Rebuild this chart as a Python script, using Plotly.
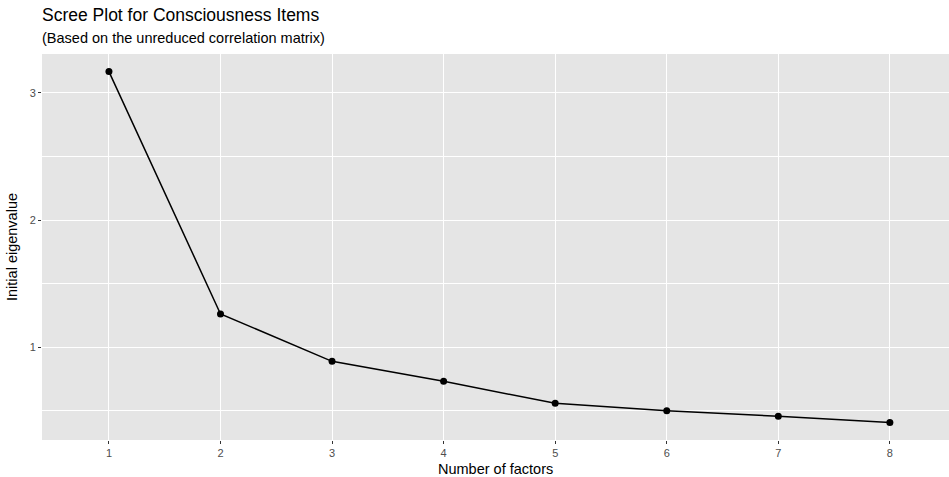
import plotly.graph_objects as go

# Scree plot data: eigenvalues of the unreduced correlation matrix
factors = [1, 2, 3, 4, 5, 6, 7, 8]
eigenvalues = [3.166, 1.262, 0.890, 0.733, 0.560, 0.502, 0.458, 0.410]

title_text = "Scree Plot for Consciousness Items"
subtitle_text = "(Based on the unreduced correlation matrix)"
x_title = "Number of factors"
y_title = "Initial eigenvalue"

font_family = "Liberation Sans, Arial, Helvetica, sans-serif"

fig = go.Figure()
fig.add_trace(go.Scatter(
    x=factors, y=eigenvalues,
    mode="lines+markers",
    line=dict(color="black", width=1.5),
    marker=dict(color="black", size=7),
    showlegend=False,
    hoverinfo="x+y",
))

fig.update_layout(
    width=949, height=477,
    margin=dict(l=42, r=0, t=54, b=37),
    paper_bgcolor="white",
    plot_bgcolor="#E5E5E5",
    font=dict(family=font_family, color="#4D4D4D", size=11),
    xaxis=dict(
        range=[0.4, 8.53],
        tickmode="array", tickvals=factors, ticktext=[str(f) for f in factors],
        showgrid=True, gridcolor="white", gridwidth=1.2,
        zeroline=False, showline=False,
        ticks="outside", ticklen=3, tickcolor="#333333", tickwidth=1,
        tickfont=dict(size=11, color="#4D4D4D"),
    ),
    yaxis=dict(
        range=[0.272, 3.304],
        tickmode="array", tickvals=[1, 2, 3], ticktext=["1", "2", "3"],
        showgrid=True, gridcolor="white", gridwidth=1.2,
        minor=dict(tickmode="array", tickvals=[0.5, 1.5, 2.5],
                   showgrid=True, gridcolor="white", gridwidth=0.6, ticks=""),
        zeroline=False, showline=False,
        ticks="outside", ticklen=3, tickcolor="#333333", tickwidth=1,
        tickfont=dict(size=11, color="#4D4D4D"),
    ),
    annotations=[
        dict(text=title_text, xref="paper", yref="paper", x=0, y=1,
             xanchor="left", yanchor="bottom", xshift=-2, yshift=27,
             showarrow=False,
             font=dict(size=17.5, color="black", family=font_family)),
        dict(text=subtitle_text, xref="paper", yref="paper", x=0, y=1,
             xanchor="left", yanchor="bottom", xshift=-2, yshift=6,
             showarrow=False,
             font=dict(size=14.5, color="black", family=font_family)),
        dict(text=x_title, xref="paper", yref="paper", x=0.5, y=0,
             xanchor="center", yanchor="top", yshift=-19, showarrow=False,
             font=dict(size=14.5, color="black", family=font_family)),
        dict(text=y_title, xref="paper", yref="paper", x=0, y=0.5,
             xanchor="right", yanchor="middle", xshift=-20, textangle=-90,
             showarrow=False,
             font=dict(size=14.5, color="black", family=font_family)),
    ],
)

fig.write_html("out.html")
